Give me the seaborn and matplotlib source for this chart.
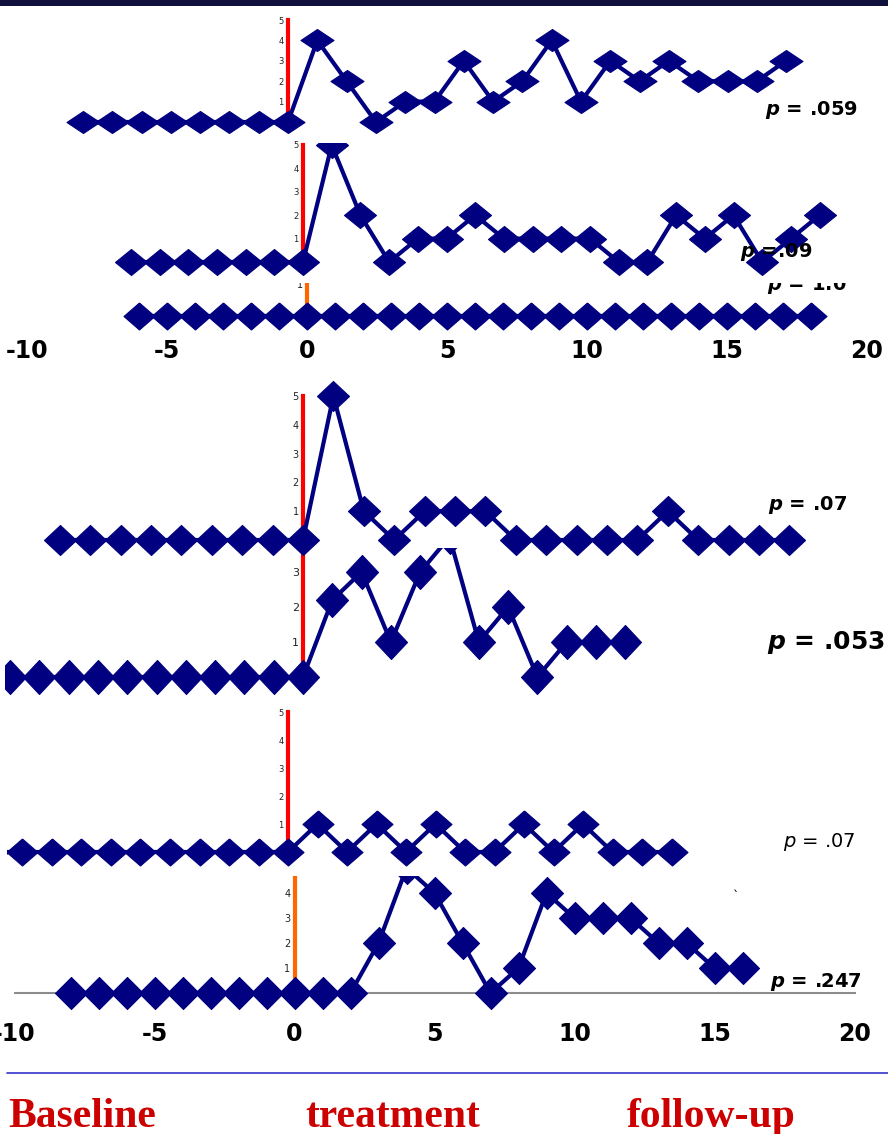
import matplotlib
matplotlib.use("Agg")
import matplotlib.pyplot as plt
from matplotlib.lines import Line2D
from matplotlib.patches import Rectangle
import seaborn as sns

# ---- data: session number vs. count, one series per participant ----
s1_x = [-7, -6, -5, -4, -3, -2, -1, 0, 1, 2, 3, 4, 5, 6, 7, 8, 9, 10, 11, 12, 13, 14, 15, 16, 17]
s1_y = [0, 0, 0, 0, 0, 0, 0, 0, 4, 2, 0, 1, 1, 3, 1, 2, 4, 1, 3, 2, 3, 2, 2, 2, 3]

s2_x = [-6, -5, -4, -3, -2, -1, 0, 1, 2, 3, 4, 5, 6, 7, 8, 9, 10, 11, 12, 13, 14, 15, 16, 17, 18]
s2_y = [0, 0, 0, 0, 0, 0, 0, 5, 2, 0, 1, 1, 2, 1, 1, 1, 1, 0, 0, 2, 1, 2, 0, 1, 2]

s3_x = [-6, -5, -4, -3, -2, -1, 0, 1, 2, 3, 4, 5, 6, 7, 8, 9, 10, 11, 12, 13, 14, 15, 16, 17, 18]
s3_y = [0, 0, 0, 0, 0, 0, 0, 0, 0, 0, 0, 0, 0, 0, 0, 0, 0, 0, 0, 0, 0, 0, 0, 0, 0]

s4_x = [-8, -7, -6, -5, -4, -3, -2, -1, 0, 1, 2, 3, 4, 5, 6, 7, 8, 9, 10, 11, 12, 13, 14, 15, 16]
s4_y = [0, 0, 0, 0, 0, 0, 0, 0, 0, 5, 1, 0, 1, 1, 1, 0, 0, 0, 0, 0, 1, 0, 0, 0, 0]

s5_x = [-10, -9, -8, -7, -6, -5, -4, -3, -2, -1, 0, 1, 2, 3, 4, 5, 6, 7, 8, 9, 10, 11]
s5_y = [0, 0, 0, 0, 0, 0, 0, 0, 0, 0, 0, 2.2, 3, 1, 3, 4, 1, 2, 0, 1, 1, 1]

s6_x = [-10, -9, -8, -7, -6, -5, -4, -3, -2, -1, 0, 1, 2, 3, 4, 5, 6, 7, 8, 9, 10, 11, 12, 13]
s6_y = [0, 0, 0, 0, 0, 0, 0, 0, 0, 0, 0, 1, 0, 1, 0, 1, 0, 0, 1, 0, 1, 0, 0, 0]

s7_x = [-8, -7, -6, -5, -4, -3, -2, -1, 0, 1, 2, 3, 4, 5, 6, 7, 8, 9, 10, 11, 12, 13, 14, 15, 16]
s7_y = [0, 0, 0, 0, 0, 0, 0, 0, 0, 0, 0, 2, 5, 4, 2, 0, 1, 4, 3, 3, 3, 2, 2, 1, 1]

p_labels = ["= .059", "=.09", "= 1.0", "= .07", "= .053", "= .07", "= .247"]
session_ticks = [-10, -5, 0, 5, 10, 15, 20]
session_labels = ["-10", "-5", "0", "5", "10", "15", "20"]
phase_labels = ["Baseline", "treatment", "follow-up"]

# ---- styling ----
sns.set_style("white")
plt.rcParams["font.family"] = ["DejaVu Sans"]
plt.rcParams["mathtext.fontset"] = "custom"
plt.rcParams["mathtext.it"] = "DejaVu Sans:italic:bold"
plt.rcParams["mathtext.sf"] = "DejaVu Sans:italic"

NAVY = "#000080"
RED = "#FF0000"
ORANGE = "#FF6600"
W, H = 888, 1134

fig = plt.figure(figsize=(W / 100, H / 100), dpi=100)
fig.patch.set_facecolor("white")


def panel(box, x0, sx, y0, sy):
    """Axes placed by pixel box (left, top, right, bottom); x0/y0 = pixel of
    session 0 / count 0, sx/sy = pixels per unit."""
    l, t, r, b = box
    ax = fig.add_axes([l / W, 1 - b / H, (r - l) / W, (b - t) / H])
    ax.set_xlim((l - x0) / sx, (r - x0) / sx)
    ax.set_ylim((y0 - b) / sy, (y0 - t) / sy)
    ax.set_facecolor("white")
    ax.patch.set_alpha(1.0)
    for s in ax.spines.values():
        s.set_visible(False)
    ax.set_xticks([])
    ax.set_yticks([])
    ax.grid(False)
    return ax


def value_axis(ax, color, lo, hi, ticks, labelsize, lw=3.0):
    sp = ax.spines["left"]
    sp.set_visible(True)
    sp.set_position(("data", 0))
    sp.set_bounds(lo, hi)
    sp.set_color(color)
    sp.set_linewidth(lw)
    sp.set_zorder(1)
    ax.set_yticks(ticks)
    ax.set_yticklabels([str(t) for t in ticks])
    ax.tick_params(axis="y", length=2, width=2.5, color=color,
                   labelsize=labelsize, labelcolor="#222222", pad=1)


def diamond(w, h):
    return [(0, h / 2), (w / 2, 0), (0, -h / 2), (-w / 2, 0), (0, h / 2)]


def series(ax, x, y, w, h, lw=3.0, clip=False):
    sns.lineplot(x=x, y=y, ax=ax, color=NAVY, linewidth=lw, errorbar=None,
                 marker=diamond(w, h), markersize=max(w, h) * 0.72,
                 markerfacecolor=NAVY, markeredgecolor=NAVY,
                 markeredgewidth=0.8, clip_on=clip, zorder=2)
    ax.set_xlabel("")
    ax.set_ylabel("")


def ptext(ax, px, py, s, size, weight="bold", va="center"):
    ax.text(px / W, 1 - py / H, s, transform=fig.transFigure, fontsize=size,
            fontweight=weight, ha="left", va=va, color="black",
            clip_on=False, zorder=5)


# ---- participant 3 (flat) with the upper session axis labels ----
ax3 = panel((0, 260, 888, 335), 307, 28.0, 316, 32.0)
value_axis(ax3, ORANGE, 0, ax3.get_ylim()[1], [0, 1], 7)
series(ax3, s3_x, s3_y, 31, 27)
ax3.set_xticks(session_ticks)
ax3.set_xticklabels(session_labels)
ax3.tick_params(axis="x", length=0, labelsize=17, pad=3.0, labelcolor="black")
for lab in ax3.get_xticklabels():
    lab.set_fontweight("bold")
ptext(ax3, 767, 290, r"$\mathit{p}$ " + p_labels[2], 14, va="baseline")

# ---- participant 2 ----
ax2 = panel((0, 143, 888, 283), 303, 28.7, 262, 23.4)
value_axis(ax2, RED, 0, 5, [0, 1, 2, 3, 4, 5], 6)
series(ax2, s2_x, s2_y, 32, 26, clip=True)
ptext(ax2, 740, 252, r"$\mathit{p}$ " + p_labels[1], 14)

# ---- participant 1 ----
ax1 = panel((0, 8, 888, 138), 288, 29.3, 122, 20.4)
value_axis(ax1, RED, 0, 5, [0, 1, 2, 3, 4, 5], 6)
series(ax1, s1_x, s1_y, 33, 22)
ptext(ax1, 765, 110, r"$\mathit{p}$ " + p_labels[0], 14)

# ---- participant 5 ----
ax5 = panel((5, 470, 888, 700), 303, 29.3, 677, 35.0)
value_axis(ax5, RED, 0, ax5.get_ylim()[1], [0, 1, 2, 3, 4, 5], 8)
series(ax5, s5_x, s5_y, 32, 34, clip=True)
ptext(ax5, 767, 642, r"$\mathit{p}$ " + p_labels[4], 18)

# ---- participant 4 ----
ax4 = panel((0, 365, 888, 548), 303, 30.4, 540, 28.8)
value_axis(ax4, RED, ax4.get_ylim()[0], 5, [0, 1, 2, 3, 4, 5], 7)
series(ax4, s4_x, s4_y, 32, 30)
ptext(ax4, 768, 505, r"$\mathit{p}$ " + p_labels[3], 14)

# ---- participant 7 with the lower session axis ----
ax7 = panel((0, 850, 888, 1045), 294.5, 28.0, 993, 25.0)
value_axis(ax7, ORANGE, 0, ax7.get_ylim()[1], [0, 1, 2, 3, 4, 5], 7)
bsp = ax7.spines["bottom"]
bsp.set_visible(True)
bsp.set_position(("data", 0))
bsp.set_bounds(-10, 20)
bsp.set_color("#8C8C8C")
bsp.set_linewidth(1.5)
bsp.set_zorder(1)
ax7.set_xticks(session_ticks)
ax7.set_xticklabels(session_labels)
ax7.tick_params(axis="x", length=6, width=1.2, color="#8C8C8C",
                direction="out", labelsize=17, pad=15.0, labelcolor="black")
for lab in ax7.get_xticklabels():
    lab.set_fontweight("bold")
series(ax7, s7_x, s7_y, 32, 32)
ptext(ax7, 770, 982, r"$\mathit{p}$ " + p_labels[6], 14)
ptext(ax7, 733, 897, "`", 9, weight="normal")

# ---- participant 6 ----
ax6 = panel((7, 700, 888, 876), 288, 29.5, 852, 28.0)
value_axis(ax6, RED, 0, 5, [0, 1, 2, 3, 4, 5], 6)
series(ax6, s6_x, s6_y, 31, 27, clip=True)
ptext(ax6, 783, 842, r"$\mathsf{p}$ " + p_labels[5], 14, weight="normal")

# ---- slide frame: top bar, rule and phase captions ----
fig.add_artist(Rectangle((0, 1 - 6 / H), 1, 6 / H, transform=fig.transFigure,
                         facecolor="#10103D", edgecolor="none"))
fig.add_artist(Line2D([7 / W, 1], [1 - 1073 / H, 1 - 1073 / H],
                      transform=fig.transFigure, color="#3333CC", lw=1.2))
for px, lab in zip([8, 305, 627], phase_labels):
    fig.text(px / W, 1 - 1127 / H, lab, fontsize=30, fontweight="bold",
             family=["Liberation Serif", "DejaVu Serif"], color="#CC0000",
             ha="left", va="baseline")

fig.savefig("out.png", dpi=100, facecolor="white")
